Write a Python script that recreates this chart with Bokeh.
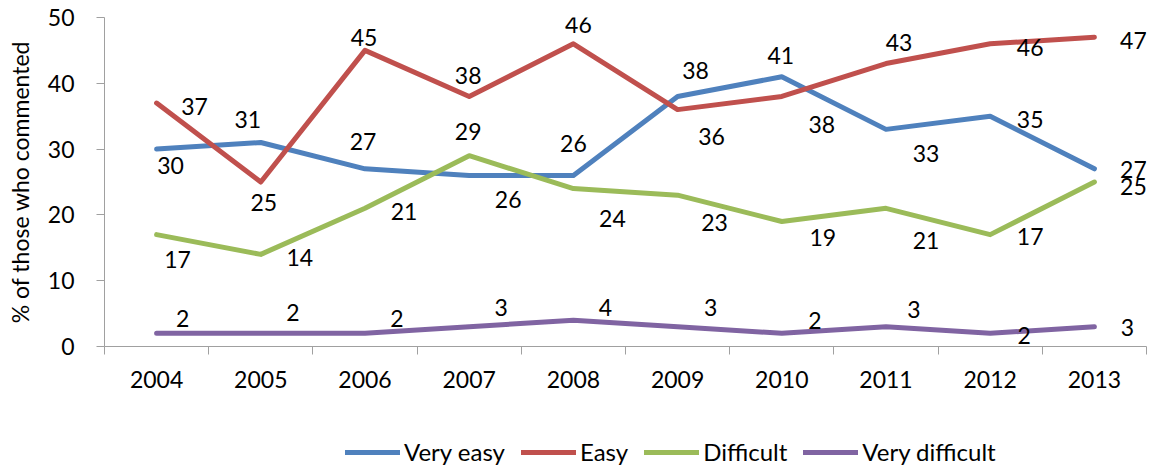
from bokeh.plotting import figure
from bokeh.models import Range1d, FixedTicker, Legend, LegendItem, ColumnDataSource
from bokeh.layouts import column
from bokeh.core.properties import value
from bokeh.embed import file_html
from bokeh.resources import INLINE

years = ["2004", "2005", "2006", "2007", "2008", "2009", "2010", "2011", "2012", "2013"]
very_easy = [30, 31, 27, 26, 26, 38, 41, 33, 35, 27]
easy = [37, 25, 45, 38, 46, 36, 38, 43, 46, 47]
difficult = [17, 14, 21, 29, 24, 23, 19, 21, 17, 25]
very_difficult = [2, 2, 2, 3, 4, 3, 2, 3, 2, 3]
series_names = ["Very easy", "Easy", "Difficult", "Very difficult"]
colors = ["#4F81BD", "#C0504D", "#9BBB59", "#8064A2"]

# data-label placement offsets (screen px, dy positive = down)
label_dx = [
    [14, -13, -2, 39, 0, 18, -1, 40, 40, 39],
    [38, 3, -1, -1, 5, 34, 40, 13, 40, 39],
    [21, 39, 39, -1, 39, 37, 41, 40, 40, 39],
    [26, 32, 32, 32, 32, 33, 33, 28, 34, 33],
]
label_dy = [
    [16, -23, -27, 24, -32, -26, -21, 24, 3, 1],
    [3, 20, -13, -21, -19, 27, 28, -21, 4, 3],
    [25, 3, 3, -24, 30, 27, 16, 32, 2, 4],
    [-15, -21, -15, -19, -13, -19, -13, -17, 2, 1],
]

FONT = "Lato"
FS = "23px"

xs = list(range(1, len(years) + 1))
all_series = [very_easy, easy, difficult, very_difficult]

p = figure(width=1153, height=420, output_backend="svg", toolbar_location=None,
           x_range=Range1d(0.5, len(years) + 0.5), y_range=Range1d(0, 50),
           min_border_left=104, min_border_right=7, min_border_top=17, min_border_bottom=74)
p.title = None
p.outline_line_color = None
p.xgrid.visible = False
p.ygrid.visible = False
p.background_fill_color = "white"
p.border_fill_color = "white"

for vals, col in zip(all_series, colors):
    p.line(xs, vals, line_color=col, line_width=5, line_cap="round", line_join="round")
for i, vals in enumerate(all_series):
    src = ColumnDataSource(dict(x=xs, y=vals, t=[str(v) for v in vals],
                                dx=label_dx[i], dy=label_dy[i]))
    p.text("x", "y", text="t", source=src, x_offset="dx", y_offset="dy",
           text_align="center", text_baseline="middle",
           text_font=value(FONT), text_font_size=FS, text_color="black")

# x axis
xa = p.xaxis[0]
xa.ticker = FixedTicker(ticks=xs, minor_ticks=[x - 0.5 for x in xs] + [xs[-1] + 0.5])
xa.major_label_overrides = {x: y for x, y in zip(xs, years)}
xa.major_tick_out = 0
xa.major_tick_in = 0
xa.minor_tick_out = 8
xa.minor_tick_in = 0
xa.minor_tick_line_color = "#A0A0A0"
xa.axis_line_color = "#A0A0A0"
xa.major_label_standoff = 16
xa.major_label_text_font = FONT
xa.major_label_text_font_size = FS
xa.major_label_text_color = "black"

# y axis
ya = p.yaxis[0]
ya.ticker = FixedTicker(ticks=[0, 10, 20, 30, 40, 50])
ya.major_tick_out = 8
ya.major_tick_in = 0
ya.minor_tick_line_color = None
ya.major_tick_line_color = "#A0A0A0"
ya.axis_line_color = "#A0A0A0"
ya.major_label_standoff = 22
ya.major_label_text_font = FONT
ya.major_label_text_font_size = FS
ya.major_label_text_color = "black"
ya.axis_label = "% of those who commented"
ya.axis_label_text_font = FONT
ya.axis_label_text_font_size = FS
ya.axis_label_text_font_style = "normal"
ya.axis_label_text_color = "black"
ya.axis_label_standoff = 11

# legend strip (own small figure below the chart)
pl = figure(width=1153, height=51, output_backend="svg", toolbar_location=None,
            x_range=Range1d(-100, -99), y_range=Range1d(-100, -99),
            x_axis_type=None, y_axis_type=None,
            min_border_left=0, min_border_right=0, min_border_top=0, min_border_bottom=0)
pl.title = None
pl.outline_line_color = None
pl.xgrid.visible = False
pl.ygrid.visible = False
leg_renderers = [pl.line(xs, vals, line_color=col, line_width=5, line_cap="round")
                 for vals, col in zip(all_series, colors)]
legend = Legend(items=[LegendItem(label=n, renderers=[r]) for n, r in zip(series_names, leg_renderers)],
                orientation="horizontal", location=(241, 5),
                glyph_width=55, glyph_height=24, label_standoff=4, spacing=16,
                padding=0, margin=0, border_line_color=None, background_fill_alpha=0,
                label_text_font=FONT, label_text_font_size="24px", label_text_color="black",
                label_height=24)
pl.add_layout(legend, "center")

layout = column(p, pl, spacing=0)
open("out.html", "w").write(file_html(layout, INLINE))
